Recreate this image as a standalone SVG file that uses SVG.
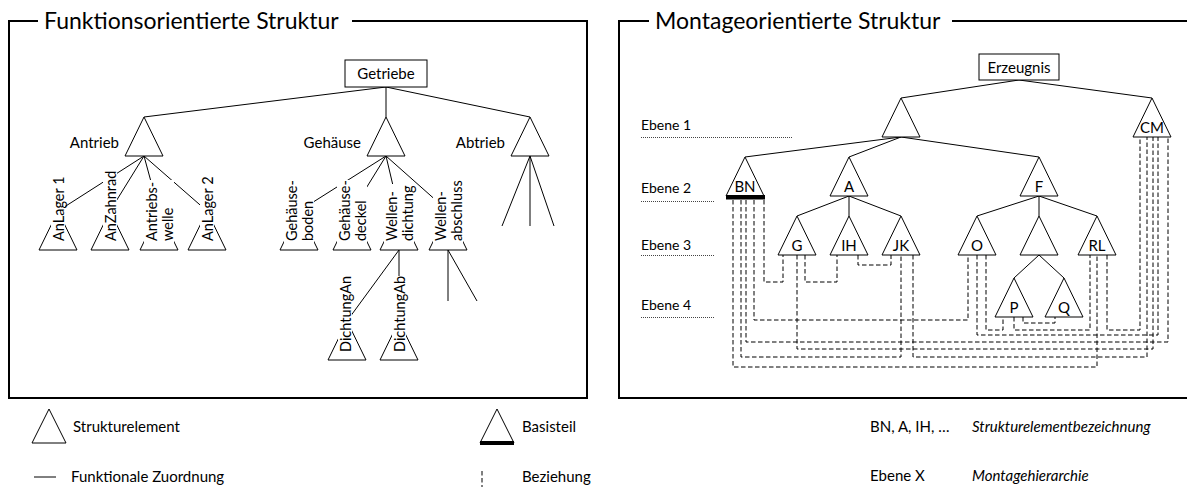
<svg xmlns="http://www.w3.org/2000/svg" width="1187" height="487" viewBox="0 0 1187 487">
  <defs>
    <style>
      text{font-family:Lato,"Open Sans","Liberation Sans",sans-serif;font-size:15px;fill:#000}
      .ttl{font-size:23px}
      .sm{font-size:14px}
      .it{font-style:italic}
      .mid{text-anchor:middle}
      .end{text-anchor:end}
      .vl{dominant-baseline:central;font-size:14.5px}
      .fr{fill:none;stroke:#000;stroke-width:2}
      .ln{fill:none;stroke:#000;stroke-width:1}
      .ds{fill:none;stroke:#000;stroke-width:1;stroke-dasharray:4.5 2.5}
      .dt{fill:none;stroke:#444;stroke-width:1;stroke-dasharray:1 1}
      .tri{fill:#fff;stroke:#000;stroke-width:1}
      .bg{fill:#fff}
      .box{fill:#fff;stroke:#000;stroke-width:1}
    </style>
    <path id="tri" d="M0,0 L19,39 L-19,39 Z"/>
  </defs>

  <rect width="1187" height="487" fill="#fff"/>

  <!-- frames and titles -->
  <g id="frame-left">
    <path class="fr" d="M38,21 H9 V398 H587 V21 H352"/>
    <text class="ttl" x="44" y="29">Funktionsorientierte Struktur</text>
  </g>
  <g id="frame-right">
    <path class="fr" d="M649,21 H619 V398 H1190 M952,21 H1190"/>
    <text class="ttl" x="655" y="29">Montageorientierte Struktur</text>
  </g>

  <!-- tree connectors -->
  <g id="connectors">
    <path class="ln" d="M386,87 L144,117 M386,87 L386,117 M386,87 L530,117"/>
    <path class="ln" d="M144,156 L58,211 M144,156 L110,211 M144,156 L159,211 M144,156 L207,211"/>
    <path class="ln" d="M386,156 L299,211 M386,156 L352,211 M386,156 L399,211 M386,156 L448,211"/>
    <path class="ln" d="M530,156 L502,226 M530,156 L530,226 M530,156 L554,226"/>
    <path class="ln" d="M399,250 L347,321 M399,250 L399,321"/>
    <path class="ln" d="M448,250 L448,301 M448,250 L477,301"/>

    <path class="ln" d="M1019,80 L901,98 M1019,80 L1152,98"/>
    <path class="ln" d="M901,137 L745,157 M901,137 L849,157 M901,137 L1039,157"/>
    <path class="ln" d="M849,196 L797,216 M849,196 L849,216 M849,196 L901,216"/>
    <path class="ln" d="M1039,196 L977,216 M1039,196 L1039,216 M1039,196 L1097,216"/>
    <path class="ln" d="M1039,255 L1014,278 M1039,255 L1064,278"/>
  </g>

  <!-- dashed assembly relations -->
  <g id="relations">
    <path class="ds" d="M764,200 V282 H783 V255"/>
    <path class="ds" d="M754,200 V320 H968 V255"/>
    <path class="ds" d="M746,200 V342 H1168 V137"/>
    <path class="ds" d="M741,200 V357 H901 V255"/>
    <path class="ds" d="M733,200 V367 H1097 V255"/>
    <path class="ds" d="M805,255 V282 H837 V255"/>
    <path class="ds" d="M797,255 V349 H1153 V137"/>
    <path class="ds" d="M858,255 V265 H891 V255"/>
    <path class="ds" d="M913,255 V357 H1147 V137"/>
    <path class="ds" d="M977,255 V335 H1158 V137"/>
    <path class="ds" d="M986,255 V330 H1003 V317"/>
    <path class="ds" d="M1014,317 V330 H1090 V255"/>
    <path class="ds" d="M1023,317 V323 H1055 V317"/>
    <path class="ds" d="M1107,255 V330 H1140 V137"/>
  </g>

  <!-- function-oriented structure -->
  <g id="getriebe">
    <rect class="box" x="345" y="60" width="82" height="27"/>
    <text class="mid" x="386" y="79">Getriebe</text>
  </g>
  <g id="antrieb">
    <use href="#tri" class="tri" x="144" y="117"/>
    <text class="end" x="119" y="148">Antrieb</text>
  </g>
  <g id="gehaeuse">
    <use href="#tri" class="tri" x="386" y="117"/>
    <text class="end" x="361" y="148">Gehäuse</text>
  </g>
  <g id="abtrieb">
    <use href="#tri" class="tri" x="530" y="117"/>
    <text class="end" x="505" y="148">Abtrieb</text>
  </g>

  <g id="anlager1">
    <use href="#tri" class="tri" x="58" y="211"/>
    <rect class="bg" x="51" y="176" width="14" height="67"/>
    <text class="vl" transform="translate(58,241) rotate(-90)">AnLager 1</text>
  </g>
  <g id="anzahnrad">
    <use href="#tri" class="tri" x="110" y="211"/>
    <rect class="bg" x="103" y="169" width="14" height="74"/>
    <text class="vl" transform="translate(110,241) rotate(-90)">AnZahnrad</text>
  </g>
  <g id="antriebswelle">
    <use href="#tri" class="tri" x="159" y="211"/>
    <rect class="bg" x="144" y="180" width="30" height="63"/>
    <text class="vl" transform="translate(151,241) rotate(-90)">Antriebs-</text>
    <text class="vl" transform="translate(167,241) rotate(-90)">welle</text>
  </g>
  <g id="anlager2">
    <use href="#tri" class="tri" x="207" y="211"/>
    <rect class="bg" x="200" y="176" width="14" height="67"/>
    <text class="vl" transform="translate(207,241) rotate(-90)">AnLager 2</text>
  </g>

  <g id="gehaeuseboden">
    <use href="#tri" class="tri" x="299" y="211"/>
    <rect class="bg" x="284" y="180" width="30" height="63"/>
    <text class="vl" transform="translate(291,241) rotate(-90)">Gehäuse-</text>
    <text class="vl" transform="translate(307,241) rotate(-90)">boden</text>
  </g>
  <g id="gehaeusedeckel">
    <use href="#tri" class="tri" x="352" y="211"/>
    <rect class="bg" x="337" y="180" width="30" height="63"/>
    <text class="vl" transform="translate(344,241) rotate(-90)">Gehäuse-</text>
    <text class="vl" transform="translate(360,241) rotate(-90)">deckel</text>
  </g>
  <g id="wellendichtung">
    <use href="#tri" class="tri" x="399" y="211"/>
    <rect class="bg" x="384" y="184" width="30" height="59"/>
    <text class="vl" transform="translate(391,241) rotate(-90)">Wellen-</text>
    <text class="vl" transform="translate(407,241) rotate(-90)">dichtung</text>
  </g>
  <g id="wellenabschluss">
    <use href="#tri" class="tri" x="448" y="211"/>
    <rect class="bg" x="433" y="179" width="30" height="64"/>
    <text class="vl" transform="translate(440,241) rotate(-90)">Wellen-</text>
    <text class="vl" transform="translate(456,241) rotate(-90)">abschluss</text>
  </g>
  <g id="dichtungan">
    <use href="#tri" class="tri" x="347" y="321"/>
    <rect class="bg" x="338" y="276" width="14" height="78"/>
    <text class="vl" transform="translate(345,352) rotate(-90)">DichtungAn</text>
  </g>
  <g id="dichtungab">
    <use href="#tri" class="tri" x="399" y="321"/>
    <rect class="bg" x="392" y="276" width="14" height="78"/>
    <text class="vl" transform="translate(399,352) rotate(-90)">DichtungAb</text>
  </g>

  <!-- assembly-oriented structure -->
  <g id="ebenen">
    <text class="sm" x="641" y="130">Ebene 1</text>
    <path class="dt" d="M641,137.5 H793"/>
    <text class="sm" x="641" y="193">Ebene 2</text>
    <path class="dt" d="M641,201.5 H715"/>
    <text class="sm" x="641" y="250">Ebene 3</text>
    <path class="dt" d="M641,255.5 H715"/>
    <text class="sm" x="641" y="310">Ebene 4</text>
    <path class="dt" d="M641,317.5 H715"/>
  </g>
  <g id="erzeugnis">
    <rect class="box" x="979" y="54" width="80" height="26"/>
    <text class="mid" x="1019" y="72.5">Erzeugnis</text>
  </g>
  <g id="ebene1">
    <use href="#tri" class="tri" x="901" y="98"/>
  </g>
  <g id="cm">
    <use href="#tri" class="tri" x="1152" y="98"/>
    <text class="mid" x="1152" y="133">CM</text>
  </g>
  <g id="bn">
    <use href="#tri" class="tri" x="745" y="157"/>
    <rect x="726" y="195" width="39" height="4.5" fill="#000"/>
    <text class="mid" x="745" y="192">BN</text>
  </g>
  <g id="a">
    <use href="#tri" class="tri" x="849" y="157"/>
    <text class="mid" x="849" y="192">A</text>
  </g>
  <g id="f">
    <use href="#tri" class="tri" x="1039" y="157"/>
    <text class="mid" x="1039" y="192">F</text>
  </g>
  <g id="g">
    <use href="#tri" class="tri" x="797" y="216"/>
    <text class="mid" x="797" y="251">G</text>
  </g>
  <g id="ih">
    <use href="#tri" class="tri" x="849" y="216"/>
    <text class="mid" x="849" y="251">IH</text>
  </g>
  <g id="jk">
    <use href="#tri" class="tri" x="901" y="216"/>
    <text class="mid" x="901" y="251">JK</text>
  </g>
  <g id="o">
    <use href="#tri" class="tri" x="977" y="216"/>
    <text class="mid" x="977" y="251">O</text>
  </g>
  <g id="f-sub">
    <use href="#tri" class="tri" x="1039" y="216"/>
  </g>
  <g id="rl">
    <use href="#tri" class="tri" x="1097" y="216"/>
    <text class="mid" x="1097" y="251">RL</text>
  </g>
  <g id="p">
    <use href="#tri" class="tri" x="1014" y="278"/>
    <text class="mid" x="1014" y="313">P</text>
  </g>
  <g id="q">
    <use href="#tri" class="tri" x="1064" y="278"/>
    <text class="mid" x="1064" y="313">Q</text>
  </g>

  <!-- legend -->
  <g id="legend">
    <polygon class="tri" points="49,409 66,443 32,443"/>
    <text x="73" y="432">Strukturelement</text>
    <path class="ln" d="M34,477 H56"/>
    <text x="71" y="482">Funktionale Zuordnung</text>
    <polygon class="tri" points="497,409 514,443 480,443"/>
    <rect x="480" y="441" width="34" height="4" fill="#000"/>
    <text x="522" y="432">Basisteil</text>
    <path class="ds" d="M482,471 V494 H501"/>
    <text x="522" y="482">Beziehung</text>
    <text x="870" y="432">BN, A, IH, …</text>
    <text class="it" x="972" y="432">Strukturelementbezeichnung</text>
    <text x="870" y="481">Ebene X</text>
    <text class="it" x="972" y="481">Montagehierarchie</text>
  </g>
</svg>
